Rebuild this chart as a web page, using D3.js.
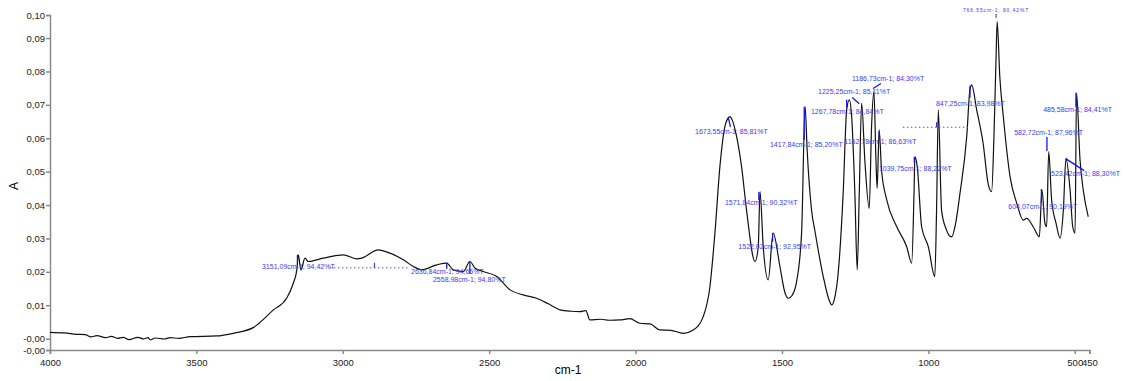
<!DOCTYPE html>
<html lang="en">
<head>
    <meta charset="UTF-8">
    <title>IR spectrum</title>
    <script src="https://d3js.org/d3.v7.min.js"></script>
    <style>
        body { margin: 0; background: white; }
        svg { display: block; font-family: "Liberation Sans", Arial, sans-serif; }
        .tick text { fill: #222; }
        .note { fill: #3b3bf0; font-size: 7px; }
    </style>
</head>
<body>
    <svg id="svg"></svg>
    <script>
        // spectrum, wavenumber (cm-1) and absorbance
        const wavenumbers = [4000, 3950, 3909, 3880, 3860, 3840, 3810, 3790, 3770, 3750, 3730, 3700, 3680, 3665, 3658, 3640, 3610, 3590, 3560, 3522, 3431, 3374, 3306, 3237, 3192, 3169, 3157, 3152, 3143, 3129, 3118, 3067, 2998, 2953, 2935, 2879, 2839, 2793, 2759, 2731, 2679, 2645, 2623, 2588, 2566, 2548, 2520, 2474, 2429, 2384, 2338, 2300, 2270, 2258, 2220, 2190, 2170, 2156, 2120, 2090, 2053, 2020, 1985, 1950, 1917, 1880, 1837, 1803, 1769, 1746, 1729, 1712, 1695, 1686, 1678, 1670, 1660, 1638, 1621, 1592, 1581, 1575, 1564, 1547, 1530, 1507, 1490, 1478, 1465, 1450, 1433, 1421, 1414, 1399, 1387, 1359, 1340, 1330, 1320, 1308, 1291, 1279, 1270, 1262, 1251, 1243, 1236, 1228, 1217, 1202, 1194, 1186, 1179, 1175, 1168, 1160, 1142, 1108, 1074, 1057, 1049, 1046, 1038, 1023, 1000, 978, 972, 966, 955, 938, 930, 920, 908, 892, 869, 858, 852, 835, 813, 796, 784, 776, 769, 765, 756, 744, 721, 698, 676, 664, 642, 621, 612, 602, 596, 589, 579, 564, 550, 539, 530, 516, 507, 499, 494, 482, 471, 454];
        const absorbance = [0.0019, 0.0017, 0.0013, 0.0012, 0.0005, 0.0009, 0.0003, 0.0007, 0.0001, 0.0004, -0.0003, 0.0004, -0.0001, 0.0003, -0.0004, 0.0002, -0.0001, 0.0003, 0.0001, 0.0006, 0.0008, 0.0016, 0.0033, 0.0086, 0.0121, 0.0166, 0.0206, 0.0251, 0.0206, 0.0241, 0.0231, 0.0241, 0.0251, 0.0239, 0.0241, 0.0266, 0.0256, 0.0236, 0.0216, 0.0206, 0.0221, 0.0226, 0.0206, 0.0201, 0.0231, 0.0211, 0.0201, 0.0186, 0.0146, 0.0131, 0.0121, 0.0105, 0.0091, 0.0086, 0.0082, 0.0081, 0.0084, 0.0056, 0.0058, 0.0055, 0.0056, 0.0060, 0.0046, 0.0044, 0.0026, 0.0025, 0.0016, 0.0026, 0.0066, 0.0156, 0.0316, 0.0515, 0.0635, 0.0658, 0.0665, 0.0655, 0.0625, 0.0515, 0.0385, 0.0231, 0.0275, 0.0440, 0.0275, 0.0176, 0.0316, 0.0216, 0.0138, 0.0121, 0.0130, 0.0171, 0.0316, 0.0695, 0.0565, 0.0385, 0.0320, 0.0186, 0.0118, 0.0101, 0.0122, 0.0196, 0.0435, 0.0685, 0.0715, 0.0665, 0.0435, 0.0206, 0.0435, 0.0705, 0.0535, 0.0390, 0.0635, 0.0740, 0.0535, 0.0450, 0.0625, 0.0505, 0.0415, 0.0335, 0.0275, 0.0226, 0.0435, 0.0545, 0.0515, 0.0335, 0.0275, 0.0186, 0.0385, 0.0685, 0.0385, 0.0325, 0.0310, 0.0305, 0.0340, 0.0435, 0.0605, 0.0745, 0.0760, 0.0685, 0.0585, 0.0465, 0.0440, 0.0605, 0.0834, 0.0949, 0.0784, 0.0665, 0.0485, 0.0405, 0.0355, 0.0360, 0.0335, 0.0305, 0.0445, 0.0346, 0.0335, 0.0560, 0.0415, 0.0346, 0.0301, 0.0385, 0.0540, 0.0445, 0.0335, 0.0316, 0.0735, 0.0535, 0.0445, 0.0365];

        const xTickValues = [4000, 3500, 3000, 2500, 2000, 1500, 1000, 500, 450];
        const xTickLabels = ["4000", "3500", "3000", "2500", "2000", "1500", "1000", "500", "450"];
        const yTickValues = [-0.0034, 0, 0.01, 0.02, 0.03, 0.04, 0.05, 0.06, 0.07, 0.08, 0.09, 0.0969];
        const yTickLabels = ["-0,00", "-0,00", "0,01", "0,02", "0,03", "0,04", "0,05", "0,06", "0,07", "0,08", "0,09", "0,10"];

        // peak labels: text, text anchor (cm-1, A), marker from/to (cm-1, A)
        const noteTexts = ["3151,09cm-1; 94,42%T", "2636,84cm-1; 94,66%T", "2558,98cm-1; 94,80%T", "1673,55cm-1; 85,81%T", "1417,84cm-1; 85,20%T", "1267,78cm-1; 84,84%T", "1225,25cm-1; 85,11%T", "1186,73cm-1; 84,30%T", "1162,78cm-1; 86,63%T", "1039,75cm-1; 88,22%T", "847,25cm-1; 83,98%T", "485,58cm-1; 84,41%T", "582,72cm-1; 87,96%T", "523,42cm-1; 88,30%T", "604,07cm-1; 90,19%T", "1571,84cm-1; 90,32%T", "1522,02cm-1; 92,95%T"];
        const noteAt = [[3276, 0.0213], [2767, 0.0198], [2692, 0.0174], [1797, 0.0619], [1541, 0.0580], [1401, 0.0677], [1377, 0.0737], [1261, 0.0776], [1287, 0.0589], [1169, 0.0508], [974, 0.0703], [608, 0.0685], [707, 0.0615], [581, 0.0492], [727, 0.0393], [1695, 0.0405], [1649, 0.0275]];
        const noteMarks = [[3155, 0.0251, 3155, 0.0230], [2645, 0.0227, 2645, 0.0209], [2566, 0.0230, 2566, 0.0194], [1683, 0.0661, 1676, 0.0634], [1424, 0.0694, 1424, 0.0595], [1279, 0.0715, 1279, 0.0691], [1260, 0.0722, 1236, 0.0703], [1189, 0.0749, 1162, 0.0764], [1168, 0.0622, 1168, 0.0601], [1048, 0.0544, 1048, 0.0526], [858, 0.0757, 858, 0.0721], [496, 0.0736, 496, 0.0694], [595, 0.0604, 595, 0.0562], [531, 0.0539, 468, 0.0503], [614, 0.0448, 614, 0.0406], [1579, 0.0439, 1579, 0.0415], [1532, 0.0316, 1532, 0.0290]];
        // the small label at the top peak
        const topNote = ["766,55cm-1; 80,42%T", 882, 0.0981, 769, 0.0972, 769, 0.0961];
        // dotted baselines with a small tick: from, to, A, tick at
        const baselines = [[3044, 2771, 0.0212, 2892], [1087, 865, 0.0633, 972]];

        const width = 1124;
        const height = 381;
        const svg = d3.select('#svg')
            .attr('width', width)
            .attr('height', height);

        const xScale = d3.scaleLinear()
            .domain([4000, 450])
            .range([50, 1089.4]);
        const yScale = d3.scaleLinear()
            .domain([-0.0034, 0.0969])
            .range([350, 15]);

        const xAxis = d3.axisBottom(xScale)
            .tickValues(xTickValues)
            .tickFormat((d, i) => xTickLabels[i])
            .tickSizeOuter(0)
            .tickSize(4);
        const yAxis = d3.axisLeft(yScale)
            .tickValues(yTickValues)
            .tickFormat((d, i) => yTickLabels[i])
            .tickSizeOuter(0)
            .tickSize(4);

        const gx = svg.append('g')
            .attr('transform', 'translate(0,350)')
            .call(xAxis);
        const gy = svg.append('g')
            .attr('transform', 'translate(50,0)')
            .call(yAxis);
        [gx, gy].forEach(g => {
            g.selectAll('path, line').attr('stroke', '#8a8a8a').attr('stroke-width', 1.5);
            g.selectAll('text').attr('font-size', 9.5).attr('font-family', '"Liberation Sans", Arial, sans-serif');
        });
        gx.selectAll('text').attr('dy', '0.9em');
        gy.selectAll('text').attr('x', -5);

        //axis titles
        svg.append('text')
            .attr('x', 568)
            .attr('y', 374)
            .attr('text-anchor', 'middle')
            .attr('font-size', 12)
            .text('cm-1');
        svg.append('text')
            .attr('transform', 'translate(18,186) rotate(-90)')
            .attr('text-anchor', 'middle')
            .attr('font-size', 12)
            .text('A');

        //spectrum
        const points = wavenumbers.map((w, i) => [w, absorbance[i]]);
        const line = d3.line()
            .x(d => xScale(d[0]))
            .y(d => yScale(d[1]))
            .curve(d3.curveMonotoneX);
        svg.append('path')
            .datum(points)
            .attr('d', line)
            .attr('fill', 'none')
            .attr('stroke', '#111')
            .attr('stroke-width', 1.2)
            .attr('stroke-linejoin', 'round');

        //dotted baselines
        baselines.forEach(b => {
            svg.append('line')
                .attr('x1', xScale(b[0])).attr('x2', xScale(b[1]))
                .attr('y1', yScale(b[2])).attr('y2', yScale(b[2]))
                .attr('stroke', '#4a4af5')
                .attr('stroke-width', 1)
                .attr('stroke-dasharray', '1.5,2.5');
            svg.append('line')
                .attr('x1', xScale(b[3])).attr('x2', xScale(b[3]))
                .attr('y1', yScale(b[2]) - 5).attr('y2', yScale(b[2]))
                .attr('stroke', '#2222ee')
                .attr('stroke-width', 1);
        });

        //peak labels
        svg.selectAll('.mark')
            .data(noteMarks)
            .enter()
            .append('line')
            .attr('class', 'mark')
            .attr('x1', d => xScale(d[0])).attr('y1', d => yScale(d[1]))
            .attr('x2', d => xScale(d[2])).attr('y2', d => yScale(d[3]))
            .attr('stroke', '#1515ee')
            .attr('stroke-width', 1.3);
        svg.selectAll('.note')
            .data(noteTexts)
            .enter()
            .append('text')
            .attr('class', 'note')
            .attr('x', (d, i) => xScale(noteAt[i][0]))
            .attr('y', (d, i) => yScale(noteAt[i][1]))
            .attr('dominant-baseline', 'middle')
            .text(d => d);

        svg.append('line')
            .attr('x1', xScale(topNote[3])).attr('y1', yScale(topNote[4]))
            .attr('x2', xScale(topNote[5])).attr('y2', yScale(topNote[6]))
            .attr('stroke', '#1515ee')
            .attr('stroke-width', 1);
        svg.append('text')
            .attr('class', 'note')
            .attr('x', xScale(topNote[1]))
            .attr('y', yScale(topNote[2]))
            .attr('dominant-baseline', 'middle')
            .style('font-size', '5px')
            .style('letter-spacing', '0.9px')
            .text(topNote[0]);
    </script>
</body>
</html>
